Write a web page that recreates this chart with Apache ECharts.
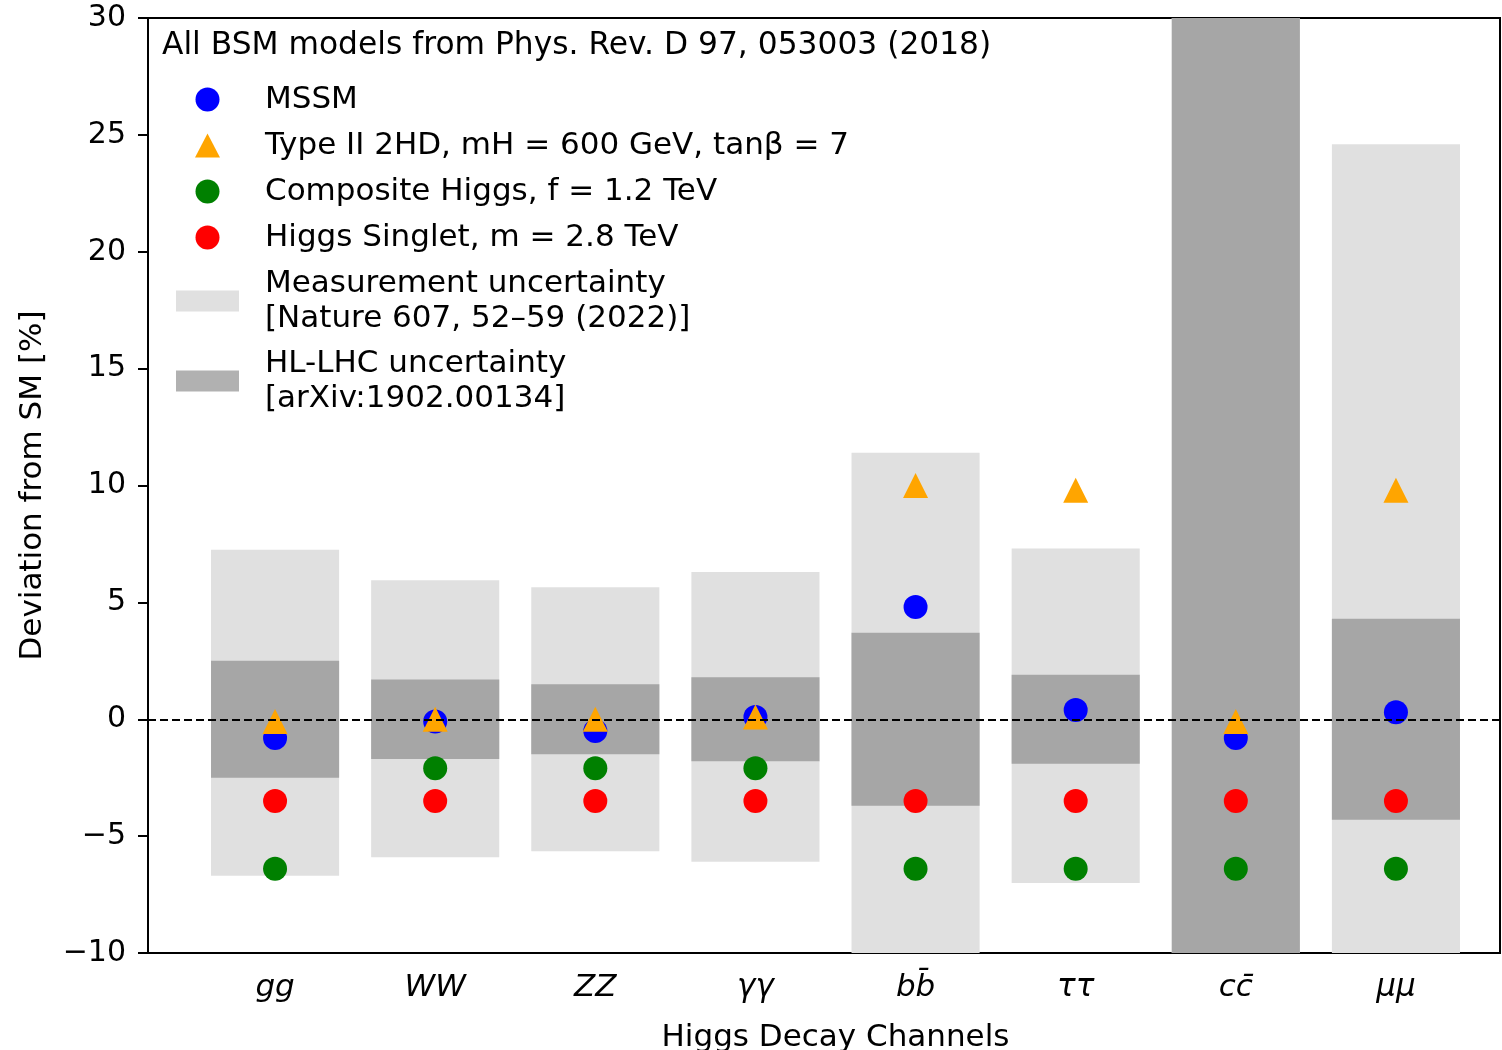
<!DOCTYPE html>
<html>
<head>
<meta charset="utf-8">
<script src="https://cdn.jsdelivr.net/npm/echarts@6/dist/echarts.min.js"></script>
<style>html,body{margin:0;padding:0;background:#fff;}#c{width:1502px;height:1050px;}</style>
</head>
<body>
<div id="c"></div>
<script>
const categories = ['gg', 'WW', 'ZZ', '\u03b3\u03b3', 'bb\u0304', '\u03c4\u03c4', 'cc\u0304', '\u03bc\u03bc'];
const mssm      = [-0.8, -0.1, -0.5, 0.1, 4.8, 0.4, -0.8, 0.3];
const type2hdm  = [-0.1, 0.0, 0.0, 0.1, 10.0, 9.8, -0.1, 9.8];
const composite = [-6.4, -2.1, -2.1, -2.1, -6.4, -6.4, -6.4, -6.4];
const singlet   = [-3.5, -3.5, -3.5, -3.5, -3.5, -3.5, -3.5, -3.5];
const measLow   = [-6.7, -5.9, -5.65, -6.1, -11.4, -7.0, -40, -24.6];
const measHigh  = [7.25, 5.95, 5.65, 6.3, 11.4, 7.3, 40, 24.6];
const hllhcLow  = [-2.5, -1.7, -1.5, -1.8, -3.7, -1.9, -40, -4.3];
const hllhcHigh = [2.5, 1.7, 1.5, 1.8, 3.7, 1.9, 40, 4.3];
const yTicks = [-10, -5, 0, 5, 10, 15, 20, 25, 30];

const FONT = 'DejaVu Sans';
const FS = 31;
const names = {
  mssm: 'MSSM',
  t2: 'Type II 2HD, mH = 600 GeV, tan\u03b2 = 7',
  comp: 'Composite Higgs, f = 1.2 TeV',
  sing: 'Higgs Singlet, m = 2.8 TeV',
  meas: 'Measurement uncertainty\n[Nature 607, 52\u201359 (2022)]',
  hl: 'HL-LHC uncertainty\n[arXiv:1902.00134]'
};

function bandData(lo, hi) { return categories.map((c, i) => [i, lo[i], hi[i]]); }
function bandRender(color) {
  return function (params, api) {
    const i = api.value(0);
    const top = api.coord([i, api.value(2)]);
    const bot = api.coord([i, api.value(1)]);
    const w = api.size([1, 0])[0] * 0.8;
    return {
      type: 'rect',
      shape: { x: top[0] - w / 2, y: top[1], width: w, height: bot[1] - top[1] },
      style: { fill: color }
    };
  };
}
function pts(arr) { return categories.map((c, i) => [i, arr[i]]); }

const chart = echarts.init(document.getElementById('c'), null, { renderer: 'canvas' });
chart.setOption({
  animation: false,
  backgroundColor: '#fff',
  textStyle: { fontFamily: FONT },
  title: {
    text: 'All BSM models from Phys. Rev. D 97, 053003 (2018)',
    left: 162, top: 30, padding: 0,
    textStyle: { fontFamily: FONT, fontSize: 31.3, fontWeight: 'normal', color: '#000' }
  },
  legend: [
    {
      orient: 'vertical', left: 195, top: 82, padding: 0,
      itemWidth: 25, itemHeight: 24, itemGap: 11,
      textStyle: { fontFamily: FONT, fontSize: FS, color: '#000', lineHeight: 35, padding: [0, 0, 0, 40] },
      data: [
        { name: names.mssm, icon: 'circle' },
        { name: names.t2, icon: 'triangle' },
        { name: names.comp, icon: 'circle' },
        { name: names.sing, icon: 'circle' }
      ]
    },
    {
      orient: 'vertical', left: 176, top: 266, padding: 0,
      itemWidth: 63, itemHeight: 21, itemGap: 10,
      textStyle: { fontFamily: FONT, fontSize: FS, color: '#000', lineHeight: 35, padding: [0, 0, 0, 21] },
      data: [
        { name: names.meas, icon: 'rect', itemStyle: { color: '#e0e0e0' } },
        { name: names.hl, icon: 'rect', itemStyle: { color: '#b1b1b1' } }
      ]
    }
  ],
  grid: [
    { left: 148, right: 2, top: 18, bottom: 97, outerBoundsMode: 'none', containLabel: false, show: true, borderColor: '#000', borderWidth: 2, backgroundColor: 'transparent' },
    { left: 195, right: 26, top: 18, bottom: 97, outerBoundsMode: 'none', containLabel: false }
  ],
  xAxis: [
    { gridIndex: 0, type: 'value', min: 0, max: 1, show: false },
    {
      gridIndex: 1, type: 'category', data: categories,
      name: 'Higgs Decay Channels', nameLocation: 'middle', nameGap: 69,
      nameTextStyle: { fontFamily: FONT, fontSize: FS, color: '#000' },
      axisLine: { show: false },
      axisTick: { show: true, alignWithLabel: true, length: 10, lineStyle: { color: '#000', width: 2 } },
      axisLabel: { margin: 19, fontFamily: FONT, fontStyle: 'italic', fontSize: FS, color: '#000' },
      splitLine: { show: false }
    }
  ],
  yAxis: [
    {
      gridIndex: 0, type: 'value', min: -10, max: 30, interval: 5,
      name: 'Deviation from SM [%]', nameLocation: 'middle', nameGap: 100,
      nameTextStyle: { fontFamily: FONT, fontSize: FS, color: '#000' },
      axisLine: { show: true, lineStyle: { color: '#000', width: 2 } },
      axisTick: { show: true, length: 10, lineStyle: { color: '#000', width: 2 } },
      axisLabel: {
        margin: 22, fontFamily: FONT, fontSize: 30, color: '#000',
        formatter: v => (v < 0 ? '\u2212' + Math.abs(v) : String(v))
      },
      splitLine: { show: false }
    },
    { gridIndex: 1, type: 'value', min: -10, max: 30, show: false }
  ],
  series: [
    {
      name: names.meas, type: 'custom', xAxisIndex: 1, yAxisIndex: 1, clip: true, z: 1,
      itemStyle: { color: '#e0e0e0' },
      renderItem: bandRender('#e0e0e0'), encode: { x: 0, y: [1, 2] },
      data: bandData(measLow, measHigh)
    },
    {
      name: names.hl, type: 'custom', xAxisIndex: 1, yAxisIndex: 1, clip: true, z: 1,
      itemStyle: { color: '#a6a6a6' },
      renderItem: bandRender('#a6a6a6'), encode: { x: 0, y: [1, 2] },
      data: bandData(hllhcLow, hllhcHigh)
    },
    {
      name: 'zero', type: 'line', xAxisIndex: 0, yAxisIndex: 0, data: [], z: 3,
      markLine: {
        silent: true, symbol: ['none', 'none'], label: { show: false },
        lineStyle: { color: '#000', type: [8, 4], width: 2.2 },
        data: [{ yAxis: 0 }]
      }
    },
    { name: names.mssm, type: 'scatter', xAxisIndex: 1, yAxisIndex: 1, symbol: 'circle', symbolSize: 24, itemStyle: { color: '#0000ff', opacity: 1 }, z: 4, data: pts(mssm) },
    { name: names.t2, type: 'scatter', xAxisIndex: 1, yAxisIndex: 1, symbol: 'triangle', symbolSize: 25, itemStyle: { color: '#ffa500', opacity: 1 }, z: 4, data: pts(type2hdm) },
    { name: names.comp, type: 'scatter', xAxisIndex: 1, yAxisIndex: 1, symbol: 'circle', symbolSize: 24, itemStyle: { color: '#008000', opacity: 1 }, z: 4, data: pts(composite) },
    { name: names.sing, type: 'scatter', xAxisIndex: 1, yAxisIndex: 1, symbol: 'circle', symbolSize: 24, itemStyle: { color: '#ff0000', opacity: 1 }, z: 4, data: pts(singlet) }
  ]
});
</script>
</body>
</html>
